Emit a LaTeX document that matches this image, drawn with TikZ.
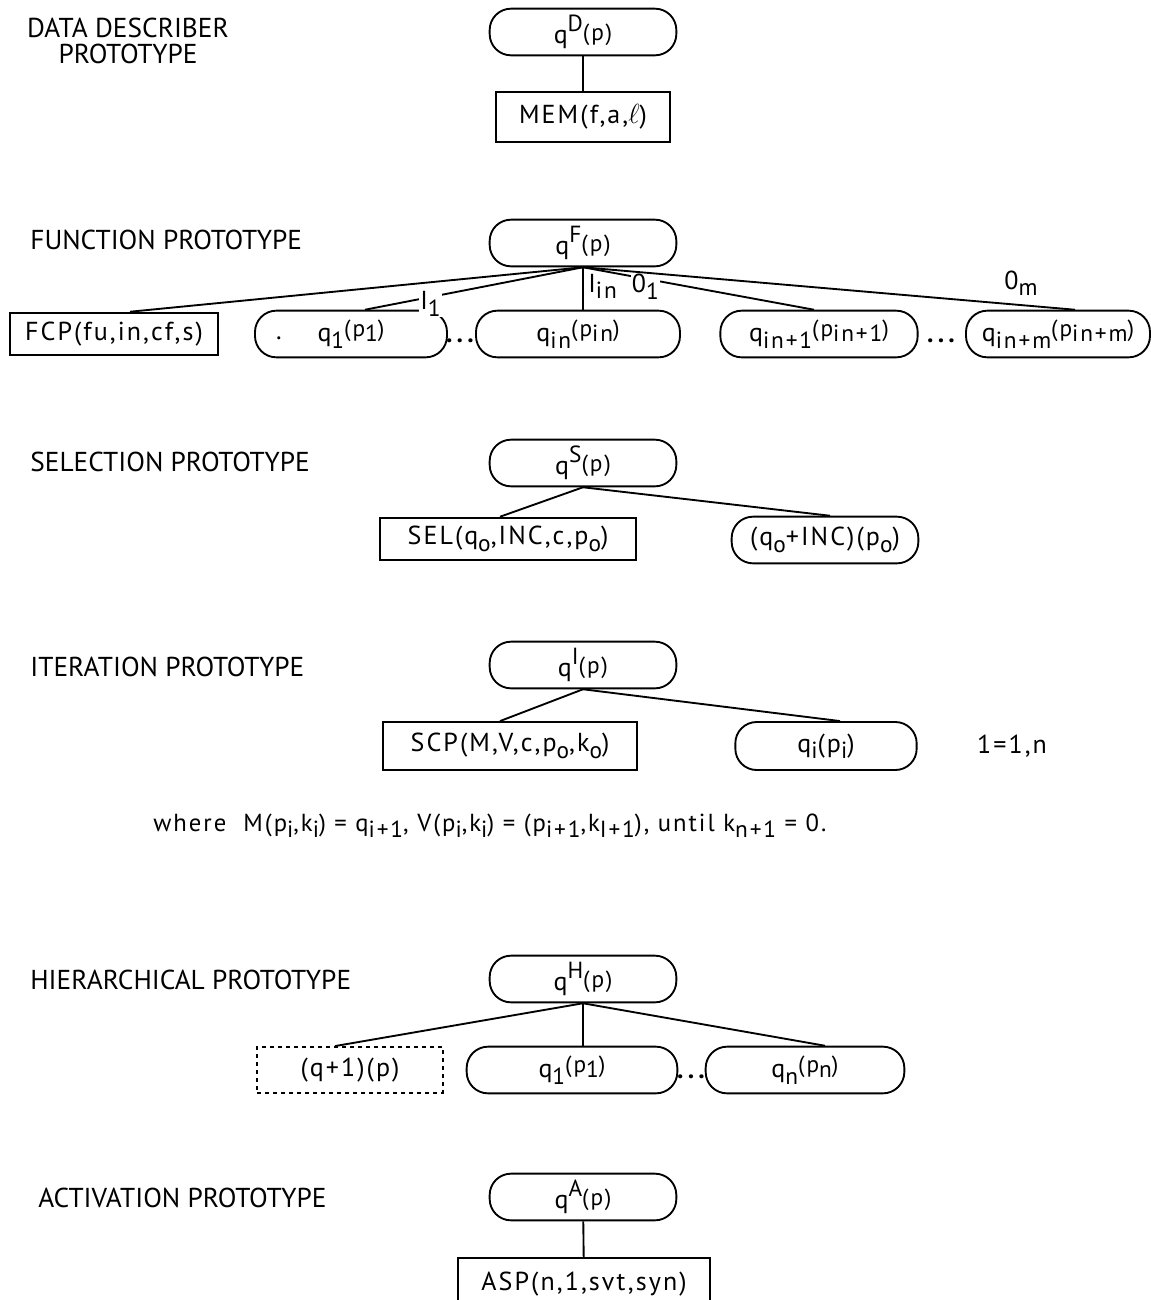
\documentclass[tikz,border=0pt]{standalone}
\usepackage{fontspec}
\setmainfont{PT Sans}
\newfontfamily\nodefont[LetterSpace=8]{PT Sans}
\usetikzlibrary{calc}
% script-size text for raised and lowered indices
\newcommand\scr{\fontsize{17.5}{20}\selectfont}
\newcommand\lo[1]{\raisebox{-0.5ex}{\scr #1}}
\newcommand\hi[1]{\raisebox{0.45ex}{\scr #1}}
% prototype head: q with a raised kind letter and (p)
\newcommand\qtop[1]{q\raisebox{0.95ex}{\scr #1}\raisebox{0.25ex}{\scr(p)}}
\begin{document}
\begin{tikzpicture}[x=0.75pt,y=-0.75pt,line width=1.4pt,
  every node/.style={font=\nodefont\fontsize{19.5}{22}\selectfont},
  roundbox/.style={draw,rounded corners=16pt,minimum width=#1,minimum height=35pt,inner sep=0pt},
  squarebox/.style={draw,minimum width=#1,minimum height=32pt,inner sep=0pt},
  proto/.style={anchor=west,font=\rmfamily\fontsize{20.5}{24}\selectfont},
  edgelabel/.style={fill=white,inner sep=1pt}]
\clip (0,0) rectangle (1151,1300);
\fill[white] (0,0) rectangle (1151,1300);

% data describer
\node[align=center,font=\rmfamily\fontsize{20.5}{19}\selectfont] (lblD) at (128,41) {DATA DESCRIBER\\PROTOTYPE};
\node[roundbox=140pt] (qD) at (583,32) {\qtop{D}};
\node[squarebox=130pt,minimum height=38pt] (mem) at (583,117) {MEM(f,a,$\ell$)};
\draw (qD) -- (mem);

% function
\node[proto] (lblF) at (25,240) {FUNCTION PROTOTYPE};
\node[roundbox=140pt] (qF) at (583,243) {\qtop{F}};
\node[squarebox=156pt] (fcp) at (114,334) {FCP(fu,in,cf,s)};
\node[roundbox=144pt] (q1) at (351,334) {q\lo{1}\hi{(p\lo{1})}};
\node (speck) at (279,338) {.};
\node (dots1) at (461,341) {\textbf{.\,.\,.}};
\node[roundbox=153pt] (qin) at (578,334) {q\lo{in}\hi{(p\lo{in})}};
\node[roundbox=148pt] (qinp) at (819,334) {q\lo{in+1}\hi{(p\lo{in+1})}};
\node (dots2) at (942,341) {\textbf{.\,.\,.}};
\node[roundbox=138pt] (qinm) at (1058,334) {q\lo{in+m}\hi{(p\lo{in+m})}};
\draw (qF.south) -- ($(fcp.north)+(16,0)$);
\draw (qF.south) -- node[edgelabel,pos=0.7,yshift=-5pt] {I\lo{1}} ($(q1.north)+(14,0)$);
\draw (qF.south) -- node[right,pos=0.45] {I\lo{in}} ($(qin.north)+(5,0)$);
\draw (qF.south) -- node[edgelabel,pos=0.27,yshift=-6pt] {0\lo{1}} ($(qinp.north)+(-5,0)$);
\draw (qF.south) -- node[above=3pt,pos=0.89] {0\lo{m}} ($(qinm.north)+(17,0)$);

% selection
\node[proto] (lblS) at (25,462) {SELECTION PROTOTYPE};
\node[roundbox=140pt] (qS) at (583,463) {\qtop{S}};
\node[squarebox=192pt] (sel) at (508,539) {SEL(q\lo{o},INC,c,p\lo{o})};
\node[roundbox=140pt] (inc) at (825,540) {(q\lo{o}+INC)(p\lo{o})};
\draw (qS.south) -- ($(sel.north)+(-8,0)$);
\draw (qS.south) -- ($(inc.north)+(5,0)$);

% iteration
\node[proto] (lblI) at (25,667) {ITERATION PROTOTYPE};
\node[roundbox=140pt] (qI) at (583,665) {\qtop{I}};
\node[squarebox=191pt,minimum height=36pt] (scp) at (510,746) {SCP(M,V,c,p\lo{o},k\lo{o})};
\node[roundbox=136pt,minimum height=36pt] (qi) at (826,746) {q\lo{i}(p\lo{i})};
\node (range) at (1012,746) {1=1,n};
\draw (qI.south) -- ($(scp.north)+(-10,0)$);
\draw (qI.south) -- ($(qi.north)+(14,0)$);
\node[anchor=west,font=\nodefont\fontsize{18.5}{21}\selectfont] (where) at (148,826)
  {where\ \ M(p\lo{i},k\lo{i}) = q\lo{i+1}, V(p\lo{i},k\lo{i}) = (p\lo{i+1},k\lo{I+1}), until k\lo{n+1} = 0.};

% hierarchical
\node[proto] (lblH) at (25,980) {HIERARCHICAL PROTOTYPE};
\node[roundbox=140pt] (qH) at (583,979) {\qtop{H}};
\node[squarebox=139pt,minimum height=34.5pt,dashed] (next) at (350,1070) {(q+1)(p)};
\node[roundbox=158pt] (h1) at (572,1070) {q\lo{1}\hi{(p\lo{1})}};
\node (dots3) at (692,1077) {\textbf{.\,.\,.}};
\node[roundbox=149pt] (hn) at (805,1070) {q\lo{n}\hi{(p\lo{n})}};
\draw (qH.south) -- ($(next.north)+(-15,0)$);
\draw (qH.south) -- ($(h1.north)+(11,0)$);
\draw (qH.south) -- ($(hn.north)+(20,0)$);

% activation
\node[proto] (lblA) at (33,1198) {ACTIVATION PROTOTYPE};
\node[roundbox=140pt] (qA) at (583,1197) {\qtop{A}};
\node[squarebox=189pt,minimum height=39pt] (asp) at (584,1284) {ASP(n,1,svt,syn)};
\draw (qA) -- (asp);
\end{tikzpicture}
\end{document}
